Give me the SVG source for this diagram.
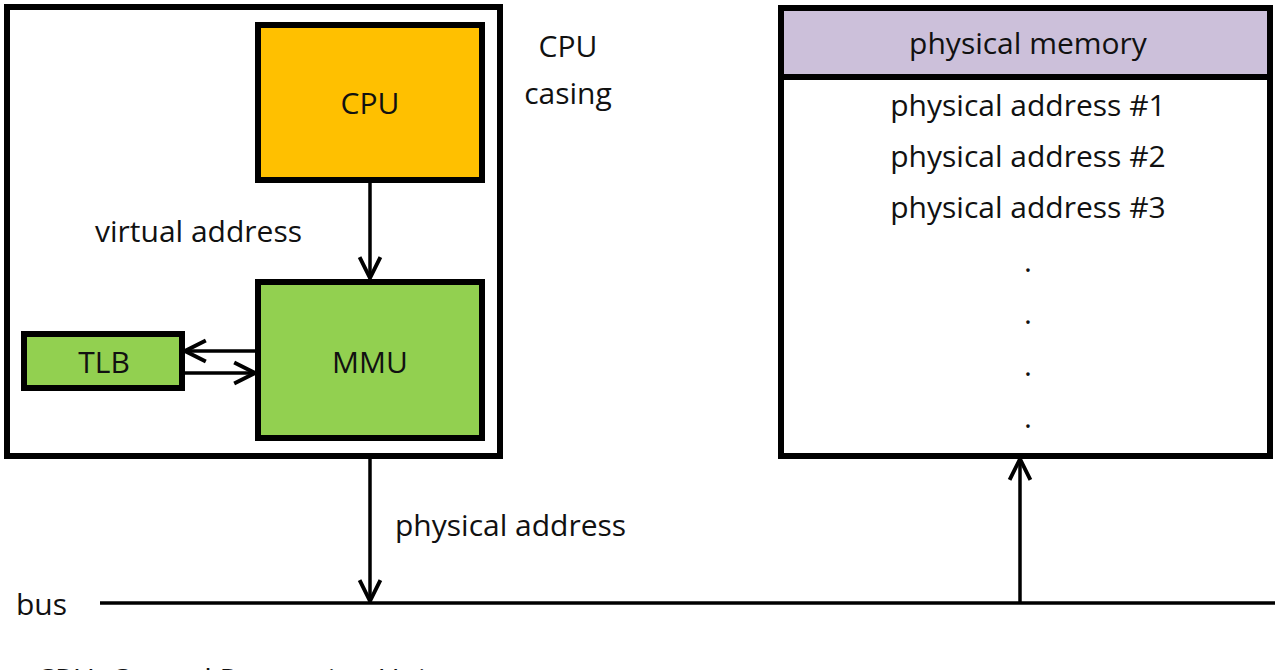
<svg xmlns="http://www.w3.org/2000/svg" width="1280" height="670" viewBox="0 0 1280 670">
<defs>
<style>
text{font-family:"Open Sans","Liberation Sans",sans-serif;font-size:30px;fill:#111}
.b{stroke:#000;stroke-width:6}
.l{stroke:#000;stroke-width:3.5;fill:none}
</style>
<marker id="a" viewBox="0 0 20 20" refX="18" refY="10" markerWidth="26" markerHeight="26" markerUnits="userSpaceOnUse" orient="auto"><path d="M2,2 L18,10 L2,18" fill="none" stroke="#000" stroke-width="3"/></marker>
</defs>
<rect width="1280" height="670" fill="#fff"/>
<g id="casing"><rect x="7" y="7" width="493" height="449" fill="#fff" class="b"/>
<text x="568" y="57" text-anchor="middle">CPU</text><text x="568" y="104" text-anchor="middle">casing</text></g>
<g id="cpu"><rect x="258" y="25" width="224" height="155" fill="#FFC000" class="b"/><text x="370" y="114" text-anchor="middle">CPU</text></g>
<g id="mmu"><rect x="258" y="282" width="224" height="156" fill="#92D050" class="b"/><text x="370" y="373" text-anchor="middle">MMU</text></g>
<g id="tlb"><rect x="24" y="334" width="158" height="54" fill="#92D050" class="b"/><text x="104" y="373" text-anchor="middle">TLB</text></g>
<g id="memory"><rect x="781" y="8" width="489" height="448" fill="#fff" class="b"/>
<rect x="781" y="8" width="489" height="69" fill="#CCC0DA" class="b"/>
<text x="1028" y="54" text-anchor="middle">physical memory</text>
<text x="1028" y="116" text-anchor="middle">physical address #1</text>
<text x="1028" y="167" text-anchor="middle">physical address #2</text>
<text x="1028" y="218" text-anchor="middle">physical address #3</text>
<text x="1028" y="272" text-anchor="middle">.</text><text x="1028" y="324" text-anchor="middle">.</text><text x="1028" y="376" text-anchor="middle">.</text><text x="1028" y="428" text-anchor="middle">.</text></g>
<g id="bus"><text x="16" y="615">bus</text><line x1="100" y1="603" x2="1275" y2="603" class="l"/></g>
<g id="connectors">
<line x1="370" y1="180" x2="370" y2="278" class="l" marker-end="url(#a)"/>
<line x1="258" y1="351" x2="185" y2="351" class="l" marker-end="url(#a)"/>
<line x1="182" y1="373" x2="255" y2="373" class="l" marker-end="url(#a)"/>
<line x1="370" y1="456" x2="370" y2="601" class="l" marker-end="url(#a)"/>
<line x1="1020" y1="603" x2="1020" y2="459" class="l" marker-end="url(#a)"/>
</g>
<text x="95" y="242">virtual address</text>
<text x="395" y="536">physical address</text>
<text x="36" y="690">CPU: Central Processing Unit</text>
</svg>
